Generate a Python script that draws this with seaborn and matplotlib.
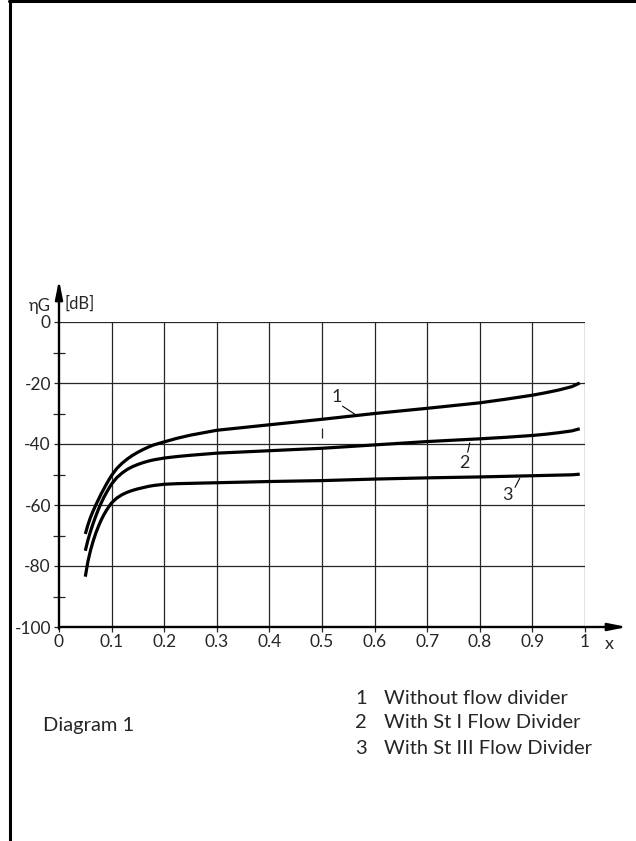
import numpy as np
import pandas as pd
import matplotlib.pyplot as plt
import seaborn as sns
from matplotlib.lines import Line2D

# ---------------------------------------------------------------- data
x_vals = [0.05, 0.055, 0.06, 0.065, 0.07, 0.075, 0.08, 0.085, 0.09, 0.095,
          0.10, 0.11, 0.12, 0.13, 0.14, 0.15, 0.16, 0.17, 0.18, 0.19,
          0.20, 0.225, 0.25, 0.30, 0.35, 0.40, 0.50, 0.60, 0.70, 0.80,
          0.85, 0.90, 0.925, 0.95, 0.975, 0.99]
curve_1 = [-69.5, -66.5, -64.0, -61.9, -60.0, -58.2, -56.4, -54.8, -53.2, -51.7,
           -50.3, -48.0, -46.3, -44.9, -43.7, -42.7, -41.8, -41.0, -40.3, -39.8,
           -39.3, -38.1, -37.1, -35.5, -34.6, -33.7, -31.9, -30.0, -28.3, -26.5,
           -25.3, -24.0, -23.2, -22.3, -21.2, -20.0]
curve_2 = [-75.0, -71.5, -68.6, -66.0, -63.6, -61.4, -59.4, -57.6, -56.0, -54.5,
           -53.1, -51.0, -49.5, -48.3, -47.4, -46.7, -46.1, -45.6, -45.2, -44.9,
           -44.6, -44.1, -43.7, -43.0, -42.6, -42.2, -41.4, -40.3, -39.2, -38.3,
           -37.8, -37.2, -36.8, -36.3, -35.7, -35.0]
curve_3 = [-83.5, -78.5, -74.8, -71.8, -69.2, -67.0, -65.0, -63.3, -61.8, -60.5,
           -59.3, -57.7, -56.6, -55.8, -55.2, -54.7, -54.3, -53.9, -53.6, -53.4,
           -53.2, -53.0, -52.9, -52.7, -52.5, -52.3, -52.0, -51.5, -51.1, -50.8,
           -50.6, -50.4, -50.3, -50.2, -50.1, -49.9]

curve_ids = ['1', '2', '3']
legend_labels = ['Without flow divider', 'With St I Flow Divider', 'With St III Flow Divider']
x_ticks = [0, 0.1, 0.2, 0.3, 0.4, 0.5, 0.6, 0.7, 0.8, 0.9, 1.0]
x_tick_labels = ['0', '0.1', '0.2', '0.3', '0.4', '0.5', '0.6', '0.7', '0.8', '0.9', '1']
y_ticks = [0, -20, -40, -60, -80, -100]
y_minor = [-10, -30, -50, -70, -90]

# curve number labels (text pos, leader start, leader end)
label_pos = [(0.528, -24.6), (0.770, -46.3), (0.853, -56.8)]
leader_from = [(0.539, -27.6), (0.777, -42.7), (0.867, -54.2)]
leader_to = [(0.564, -30.4), (0.781, -39.6), (0.876, -51.2)]

df = pd.DataFrame({
    'x': x_vals * 3,
    'eta': curve_1 + curve_2 + curve_3,
    'curve': [c for c in curve_ids for _ in x_vals],
})

# ---------------------------------------------------------------- style
sns.set_style('white')
plt.rcParams['font.family'] = ['Lato', 'DejaVu Sans']
plt.rcParams['axes.unicode_minus'] = False

W, H = 636, 841
fig = plt.figure(figsize=(W / 100, H / 100), dpi=100)
ax = fig.add_axes([59 / W, 1 - 627 / H, 526 / W, 305 / H])

def fx(px):  # pixel -> figure fraction
    return px / W

def fy(py):
    return 1 - py / H

grid_kw = dict(color='#262626', lw=0.9, zorder=1)

# grid (x = 0.5 drawn with a gap between curves 1 and 2)
for xv in x_ticks[1:]:
    if xv == 0.5:
        i = x_vals.index(0.5)
        ax.vlines(0.5, curve_1[i], 0, **grid_kw)
        ax.vlines(0.5, -100, curve_2[i], **grid_kw)
        ax.vlines(0.5, -37.9, -34.9, **grid_kw)
    else:
        ax.axvline(xv, **grid_kw)
for yv in y_ticks[:-1]:
    ax.axhline(yv, **grid_kw)

sns.lineplot(data=df, x='x', y='eta', units='curve', estimator=None,
             color='black', lw=2.3, ax=ax, zorder=3, legend=False,
             solid_joinstyle='round', solid_capstyle='butt')

ax.set_xlim(0, 1)
ax.set_ylim(-100, 0)
ax.set_xlabel('')
ax.set_ylabel('')
for s in ['top', 'right', 'left', 'bottom']:
    ax.spines[s].set_visible(False)

# axes with arrows
arrow_kw = dict(arrowstyle='-|>,head_length=1.1,head_width=0.22', color='black',
                lw=1.7, shrinkA=0, shrinkB=0, mutation_scale=10)
ax.annotate('', xy=(1.08, -100), xytext=(0, -100), arrowprops=arrow_kw,
            annotation_clip=False, zorder=4)
ax.annotate('', xy=(0, 13.8), xytext=(0, -100.6), arrowprops=arrow_kw,
            annotation_clip=False, zorder=4)

ax.set_xticks(x_ticks)
ax.set_xticklabels(x_tick_labels, fontsize=12.5)
ax.set_yticks(y_ticks)
ax.set_yticklabels([str(v) for v in y_ticks], fontsize=12.5)
ax.set_yticks(y_minor, minor=True)
ax.tick_params(axis='x', direction='out', length=3.5, width=0.9, pad=1.8, bottom=True)
ax.tick_params(axis='y', which='major', direction='out', length=3.8, width=0.9, pad=2.0, left=True)
ax.tick_params(axis='y', which='minor', direction='inout', length=8, width=0.9, left=True)

# curve numbers
for cid, (tx, ty), (ax0, ay0), (ax1, ay1) in zip(curve_ids, label_pos, leader_from, leader_to):
    ax.text(tx, ty, cid, fontsize=13, ha='center', va='center', zorder=5)
    ax.plot([ax0, ax1], [ay0, ay1], color='black', lw=0.8, zorder=5)

# axis captions
fig.text(fx(40), fy(306), 'ηG', fontsize=12, ha='center', va='center')
fig.text(fx(65), fy(304), '[dB]', fontsize=12, ha='left', va='center')
fig.text(fx(609), fy(644), 'x', fontsize=13, ha='center', va='center')

# legend block
for k, (cid, lab) in enumerate(zip(curve_ids, legend_labels)):
    yy = 698 + k * 25
    fig.text(fx(355), fy(yy), cid, fontsize=14.5, ha='left', va='center')
    fig.text(fx(384), fy(yy), lab, fontsize=14.5, ha='left', va='center')
fig.text(fx(43), fy(725), 'Diagram 1', fontsize=14.5, ha='left', va='center')

# page frame
fig.add_artist(Line2D([fx(10), fx(10)], [0, 1], color='black', lw=2.2, transform=fig.transFigure))
fig.add_artist(Line2D([fx(9), 1], [fy(0.8), fy(0.8)], color='black', lw=2.2, transform=fig.transFigure))

fig.savefig('out.png', dpi=100, facecolor='white')
